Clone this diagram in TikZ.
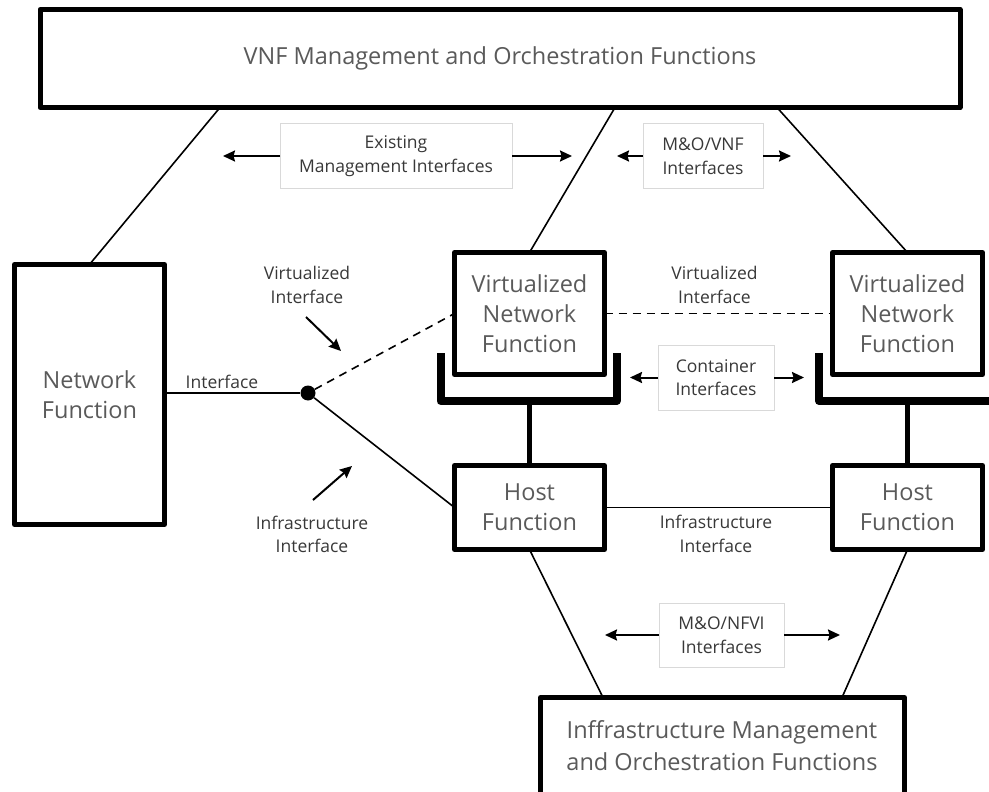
\documentclass[tikz,border=0pt]{standalone}
\usepackage{fontspec}
\setmainfont{Open Sans}
\usetikzlibrary{arrows.meta,calc}
\definecolor{txtbig}{HTML}{5A5A5A}
\definecolor{txtsmall}{HTML}{383838}
\definecolor{lblborder}{HTML}{D9D9D9}
\tikzset{
  bigbox/.style={draw, line width=5pt, line join=round, fill=white, text=txtbig,
    font=\fontsize{23.5}{30}\selectfont, align=center, inner sep=0pt, outer sep=0pt},
  lblbox/.style={draw=lblborder, line width=1pt, fill=white, text=txtsmall,
    font=\fontsize{17.5}{23.5}\selectfont, align=center, inner sep=0pt, outer sep=0pt},
  lbl/.style={text=txtsmall, font=\fontsize{17.5}{23.5}\selectfont, align=center, inner sep=0pt},
  conn/.style={line width=1.6pt},
  dashconn/.style={line width=1.6pt, dash pattern=on 8pt off 6pt},
  arr/.style={line width=2pt, -{Stealth[length=12pt,width=11pt,inset=1.5pt]}},
  bracketline/.style={line width=8pt, line join=round},
  stem/.style={line width=5pt},
}
\begin{document}
\begin{tikzpicture}[x=1pt,y=-1pt]
\useasboundingbox (0,0) rectangle (989,792);

% main boxes
\node[bigbox, minimum width=920pt, minimum height=98pt] (top) at (500,58.5) {VNF Management and Orchestration Functions};
\node[bigbox, minimum width=150pt, minimum height=260pt] (nf) at (89.5,394.5) {Network\\Function};
\node[bigbox, minimum width=150pt, minimum height=122pt] (vnf1) at (529.5,313.5) {Virtualized\\Network\\Function};
\node[bigbox, minimum width=150pt, minimum height=122pt] (vnf2) at (907.5,313.5) {Virtualized\\Network\\Function};
\node[bigbox, minimum width=150pt, minimum height=84pt] (host1) at (529.5,507.5) {Host\\Function};
\node[bigbox, minimum width=150pt, minimum height=84pt] (host2) at (907.5,507.5) {Host\\Function};
\node[bigbox, minimum width=364pt, minimum height=110pt] (imo) at (722.5,752.5) {};
\node[text=txtbig, font=\fontsize{23.5}{32}\selectfont, align=center, inner sep=0pt] (imotext) at (722,746) {Inffrastructure Management\\and Orchestration Functions};

% coordinates on the top / bottom boxes
\coordinate (t1) at (220,107.5);
\coordinate (t2) at (615,107.5);
\coordinate (t3) at (777,107.5);
\coordinate (i1) at (603,697.5);
\coordinate (i2) at (842,697.5);

% connectors to management boxes
\draw[conn] (nf.north) -- (t1);
\draw[conn] (vnf1.north) -- (t2);
\draw[conn] (vnf2.north) -- (t3);
\draw[conn] (host1.south) -- (i1);
\draw[conn] (host2.south) -- (i2);

% container brackets
\coordinate (b1l) at (440.5,353);
\coordinate (b1r) at (616.5,353);
\coordinate (b1) at (529.5,401);
\coordinate (b2l) at (819,353);
\coordinate (b2r) at (1000,401);
\coordinate (b2) at (907.5,401);
\draw[bracketline] (b1l) |- (b1) -| (b1r);
\draw[bracketline] (b2l) |- (b2r);
\draw[stem] (b1) -- (host1.north);
\draw[stem] (b2) -- (host2.north);

% interface dot
\node[circle, fill=black, minimum size=15pt, inner sep=0pt] (dot) at (308,393) {};
\draw[conn] (dot -| nf.east) -- (dot);
\node[lbl] (iflbl) at (222,382) {Interface};
\draw[dashconn] (dot) -- (vnf1.west);
\draw[conn] (dot) -- (host1.west);
\draw[dashconn] (vnf1.east) -- (vnf2.west);
\draw[conn] (host1.east) -- (host2.west);

% free labels and pointer arrows
\node[lbl] (vilbl) at (307,285) {Virtualized\\Interface};
\coordinate (va1) at (306,317);
\coordinate (va2) at (341,351);
\draw[arr] (va1) -- (va2);
\node[lbl] (iilbl) at (312,534.5) {Infrastructure\\Interface};
\coordinate (ia1) at (313,500);
\coordinate (ia2) at (352,466);
\draw[arr] (ia1) -- (ia2);
\node[lbl] (vvlbl) at (714.5,285) {Virtualized\\Interface};
\node[lbl] (hhlbl) at (716,534) {Infrastructure\\Interface};

% boxed interface labels with double arrows
\node[lblbox, minimum width=232pt, minimum height=64pt] (emi) at (396,156) {Existing\\Management Interfaces};
\coordinate (emiL) at (223,156);
\coordinate (emiR) at (572,156);
\draw[arr] (emi.west) -- (emiL);
\draw[arr] (emi.east) -- (emiR);

\node[lblbox, minimum width=120pt, minimum height=64pt] (movnf) at (703,156) {M\&O/VNF\\Interfaces};
\coordinate (movL) at (617,156);
\coordinate (movR) at (791,156);
\draw[arr] (movnf.west) -- (movL);
\draw[arr] (movnf.east) -- (movR);

\node[lblbox, minimum width=116pt, minimum height=65pt] (cont) at (716,377.5) {Container\\Interfaces};
\coordinate (conL) at (630,377.5);
\coordinate (conR) at (804,377.5);
\draw[arr] (cont.west) -- (conL);
\draw[arr] (cont.east) -- (conR);

\node[lblbox, minimum width=125pt, minimum height=64pt] (monfvi) at (721.5,635) {M\&O/NFVI\\Interfaces};
\coordinate (monL) at (605,635);
\coordinate (monR) at (840,635);
\draw[arr] (monfvi.west) -- (monL);
\draw[arr] (monfvi.east) -- (monR);
\end{tikzpicture}
\end{document}
